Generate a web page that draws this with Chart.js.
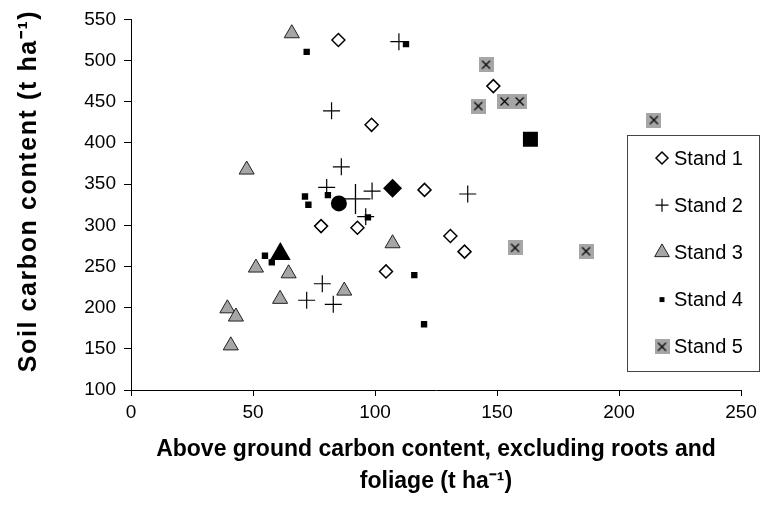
<!DOCTYPE html>
<html><head><meta charset="utf-8">
<script src="https://cdn.jsdelivr.net/npm/chart.js@4/dist/chart.umd.min.js"></script>
<style>html,body{margin:0;padding:0;background:#fff;overflow:hidden;}</style>
</head><body>
<canvas id="c" width="762" height="524" style="width:762px;height:524px;display:block"></canvas>
<script>
// ---- data ----
const xTicks = [0, 50, 100, 150, 200, 250];
const yTicks = [100, 150, 200, 250, 300, 350, 400, 450, 500, 550];
const standNames = ['Stand 1', 'Stand 2', 'Stand 3', 'Stand 4', 'Stand 5'];
const xTitle = ['Above ground carbon content, excluding roots and', 'foliage (t ha\u207B\u00B9)'];
const yTitle = 'Soil carbon content (t ha\u207B\u00B9)';

const stand1X = [85.0, 148.5, 98.6, 120.3, 77.9, 92.8, 130.9, 136.7, 104.5];
const stand1Y = [525, 469, 422, 343, 299, 297, 287, 268, 244];
const stand2X = [109.8, 82.2, 86.2, 80.2, 98.8, 138.0, 96.2, 78.4, 72.0, 82.9];
const stand2Y = [523, 439, 371, 346, 341.5, 338, 310.5, 229, 209, 204];
const stand3X = [65.9, 47.4, 107.2, 51.2, 64.6, 61.1, 87.4, 39.5, 43.0, 40.9];
const stand3Y = [533, 367.5, 278, 248.5, 241.5, 210.5, 220.5, 199, 189, 154];
const stand4X = [112.7, 72.0, 80.7, 71.3, 72.7, 97.1, 54.9, 57.7, 116.1, 120.1];
const stand4Y = [520, 510.5, 336.7, 335, 325, 309.6, 263, 255, 239.5, 179.8];
const stand5X = [145.5, 142.3, 153.1, 159.3, 214.3, 157.4, 186.5];
const stand5Y = [495, 444.7, 450.4, 450.4, 427.8, 272.6, 268.5];
// stand means (large filled markers)
const meanX = [107.2, 92.0, 61.2, 85.2, 163.7];
const meanY = [345, 332, 265, 326.6, 404.5];

// ---- helpers ----
const pts = (xs, ys) => xs.map((x, i) => ({x: x, y: ys[i]}));
const GRAY = '#a6a6a6';
const FONT = '"Liberation Sans", Arial, Helvetica, sans-serif';

function boxX(size) {
  const c = document.createElement('canvas');
  c.width = size; c.height = size;
  const g = c.getContext('2d');
  g.fillStyle = GRAY; g.fillRect(0, 0, size, size);
  g.strokeStyle = '#000'; g.lineWidth = 1.2;
  const m = 3.5;
  g.beginPath();
  g.moveTo(m, m); g.lineTo(size - m, size - m);
  g.moveTo(size - m, m); g.lineTo(m, size - m);
  g.stroke();
  return c;
}
const box5 = boxX(15);

const datasets = [
  {label: '', data: pts([meanX[0]], [meanY[0]]), pointStyle: 'rectRot', pointRadius: 9.5, backgroundColor: '#000', borderColor: '#000', borderWidth: 0, order: 0},
  {label: '', data: pts([meanX[1]], [meanY[1]]), pointStyle: 'cross', pointRadius: 15, backgroundColor: '#000', borderColor: '#000', borderWidth: 1.3, order: 0},
  {label: '', data: pts([meanX[2]], [meanY[2]]), pointStyle: 'triangle', pointRadius: 12, backgroundColor: '#000', borderColor: '#000', borderWidth: 0, order: 0},
  {label: '', data: pts([meanX[3]], [meanY[3]]), pointStyle: 'circle', pointRadius: 8, backgroundColor: '#000', borderColor: '#000', borderWidth: 0, order: 0},
  {label: '', data: pts([meanX[4]], [meanY[4]]), pointStyle: 'rect', pointRadius: 10.6, backgroundColor: '#000', borderColor: '#000', borderWidth: 0, order: 0},
  {label: standNames[0], data: pts(stand1X, stand1Y), pointStyle: 'rectRot', pointRadius: 6.5, backgroundColor: '#fff', borderColor: '#000', borderWidth: 1.5, order: 1, legendRadius: 6},
  {label: standNames[1], data: pts(stand2X, stand2Y), pointStyle: 'cross', pointRadius: 8.5, backgroundColor: '#000', borderColor: '#000', borderWidth: 1.2, order: 1, legendRadius: 6.5},
  {label: standNames[2], data: pts(stand3X, stand3Y), pointStyle: 'triangle', pointRadius: 8.7, backgroundColor: GRAY, borderColor: '#222', borderWidth: 1, order: 1, legendRadius: 8.5},
  {label: standNames[3], data: pts(stand4X, stand4Y), pointStyle: 'rect', pointRadius: 4.5, backgroundColor: '#000', borderColor: '#000', borderWidth: 0, order: 1, legendRadius: 3.5},
  {label: standNames[4], data: pts(stand5X, stand5Y), pointStyle: box5, pointRadius: 7.5, backgroundColor: GRAY, borderColor: '#000', borderWidth: 0, order: 1, legendRadius: 7.5}
];
datasets.forEach(d => { d.showLine = false; d.pointHoverRadius = d.pointRadius; });

// boxed legend inside the plot, and the (letter-spaced) vertical axis title
const extras = {
  id: 'extras',
  afterDraw(chart) {
    const ctx = chart.ctx;
    ctx.save();
    ctx.strokeStyle = '#444'; ctx.lineWidth = 1;
    ctx.strokeRect(627.5, 135.5, 132, 236);
    const items = chart.data.datasets.filter(d => d.label);
    items.forEach((d, i) => {
      const y = 158 + i * 47.2;
      ctx.fillStyle = d.backgroundColor;
      ctx.strokeStyle = d.borderColor;
      ctx.lineWidth = d.borderWidth;
      Chart.helpers.drawPoint(ctx, {pointStyle: d.pointStyle, radius: d.legendRadius, borderWidth: d.borderWidth, rotation: 0}, 662, y);
      ctx.fillStyle = '#000';
      ctx.font = '20px ' + FONT;
      ctx.textBaseline = 'middle';
      ctx.textAlign = 'left';
      ctx.fillText(d.label, 674, y + 1);
    });
    ctx.restore();

    ctx.save();
    ctx.translate(36, 191);
    ctx.rotate(-Math.PI / 2);
    ctx.font = 'bold 25px ' + FONT;
    if ('letterSpacing' in ctx) ctx.letterSpacing = '1.6px';
    ctx.fillStyle = '#000';
    ctx.textAlign = 'center';
    ctx.textBaseline = 'alphabetic';
    ctx.fillText(yTitle, 0, 0);
    ctx.restore();
  }
};

new Chart(document.getElementById('c'), {
  type: 'scatter',
  data: {datasets: datasets},
  plugins: [extras],
  options: {
    responsive: false,
    animation: false,
    devicePixelRatio: 1,
    layout: {padding: {left: 0, top: 18, right: 21, bottom: 0}},
    plugins: {legend: {display: false}, tooltip: {enabled: false}},
    scales: {
      x: {
        type: 'linear', min: xTicks[0], max: xTicks[xTicks.length - 1],
        afterBuildTicks: s => { s.ticks = xTicks.map(v => ({value: v})); },
        afterFit: s => { s.height = 134; },
        ticks: {color: '#000', font: {family: FONT, size: 19}, padding: 5, maxRotation: 0},
        grid: {drawOnChartArea: false, drawTicks: true, tickLength: 6, color: '#000', lineWidth: 1},
        border: {color: '#000', width: 1},
        title: {display: true, text: xTitle,
                color: '#000', font: {family: FONT, size: 23, weight: 'bold', lineHeight: 1.39}, padding: {top: 0, bottom: 26}}
      },
      y: {
        type: 'linear', min: yTicks[0], max: yTicks[yTicks.length - 1],
        afterBuildTicks: s => { s.ticks = yTicks.map(v => ({value: v})); },
        afterFit: s => { s.width = 131; },
        ticks: {color: '#000', font: {family: FONT, size: 19}, padding: 8},
        grid: {drawOnChartArea: false, drawTicks: true, tickLength: 7, color: '#000', lineWidth: 1},
        border: {color: '#000', width: 1},
        title: {display: false}
      }
    }
  }
});
</script>
</body></html>
